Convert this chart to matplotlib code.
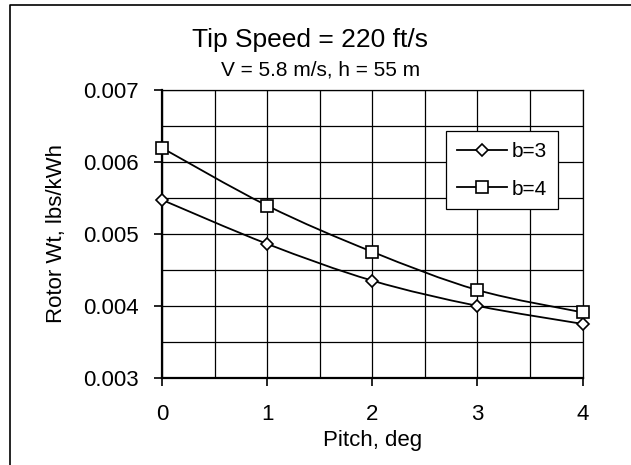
import matplotlib
matplotlib.use("Agg")
import matplotlib.pyplot as plt
from matplotlib.lines import Line2D
from matplotlib.patches import PathPatch
from matplotlib.path import Path
from matplotlib.ticker import MultipleLocator, FormatStrFormatter
import numpy as np

plt.rcParams["font.family"] = ["Liberation Sans", "DejaVu Sans"]

# values
pitch = [0, 1, 2, 3, 4]
b3 = [0.00547, 0.00486, 0.00435, 0.00400, 0.00375]
b4 = [0.00619, 0.00539, 0.00475, 0.00422, 0.00391]
series = [("b=3", b3, "D", 5.8), ("b=4", b4, "s", 9.0)]


def _smooth_path(x, y):
    """Excel-style smoothed line: cubic Bezier through every data point."""
    p = np.column_stack([x, y]).astype(float)
    ext = np.vstack([p[0], p, p[-1]])
    verts, codes = [p[0]], [Path.MOVETO]
    for i in range(len(p) - 1):
        p0, p1, p2, p3 = ext[i], ext[i + 1], ext[i + 2], ext[i + 3]
        verts += [p1 + (p2 - p0) / 6, p2 - (p3 - p1) / 6, p2]
        codes += [Path.CURVE4] * 3
    return Path(verts, codes)


fig = plt.figure(figsize=(6.31, 4.65), dpi=100)
ax = fig.add_axes([162 / 631, 1 - 378 / 465, 420.5 / 631, 288.5 / 465])

handles = []
for name, vals, mk, ms in series:
    ax.add_patch(PathPatch(_smooth_path(pitch, vals), facecolor="none",
                           edgecolor="black", lw=1.3, zorder=3))
    ax.plot(pitch, vals, ls="none", marker=mk, ms=ms, mfc="white",
            mec="black", mew=1.2, zorder=4, clip_on=False)
    handles.append(Line2D([], [], color="black", lw=1.3, marker=mk, ms=ms,
                          mfc="white", mec="black", mew=1.2, label=name))

ax.set_xlim(0, 4)
ax.set_ylim(0.003, 0.007)
ax.xaxis.set_major_locator(MultipleLocator(1))
ax.xaxis.set_minor_locator(MultipleLocator(0.5))
ax.yaxis.set_major_locator(MultipleLocator(0.001))
ax.yaxis.set_minor_locator(MultipleLocator(0.0005))
ax.yaxis.set_major_formatter(FormatStrFormatter("%.3f"))
ax.grid(which="both", color="black", lw=0.9)
ax.set_axisbelow(True)
ax.tick_params(which="major", direction="out", length=6, width=1.2,
               labelsize=16, colors="black")
ax.tick_params(axis="x", pad=13)
ax.tick_params(axis="y", pad=11)
ax.tick_params(which="minor", length=0)
for side in ("left", "bottom"):
    ax.spines[side].set_linewidth(1.6)
for side in ("top", "right"):
    ax.spines[side].set_linewidth(0.9)

ax.set_xlabel("Pitch, deg", fontsize=16)
ax.set_ylabel("Rotor Wt, lbs/kWh", fontsize=16)
ax.xaxis.set_label_coords(0.5, -0.18)
ax.yaxis.set_label_coords(-0.226, 0.5)

leg = ax.legend(handles=handles, loc="upper left",
                bbox_to_anchor=(0.675, 0.856), borderaxespad=0,
                fontsize=15, handlelength=2.4, handletextpad=0.25,
                labelspacing=0.9, borderpad=0.52, fancybox=False,
                framealpha=1, edgecolor="black")
leg.get_frame().set_linewidth(0.9)

fig.text(310.5 / 631, 1 - 46.7 / 465, "Tip Speed = 220 ft/s", fontsize=19,
         ha="center", va="baseline")
fig.text(320.5 / 631, 1 - 75 / 465, "V = 5.8 m/s, h = 55 m", fontsize=15,
         ha="center", va="baseline")

# outer chart frame: only the top and left edges are visible
fig.add_artist(Line2D([10 / 631, 10 / 631, 1], [0, 1 - 5.5 / 465, 1 - 5.5 / 465],
                      transform=fig.transFigure, color="black", lw=1.2))

fig.savefig("out.png", dpi=100, facecolor="white")
